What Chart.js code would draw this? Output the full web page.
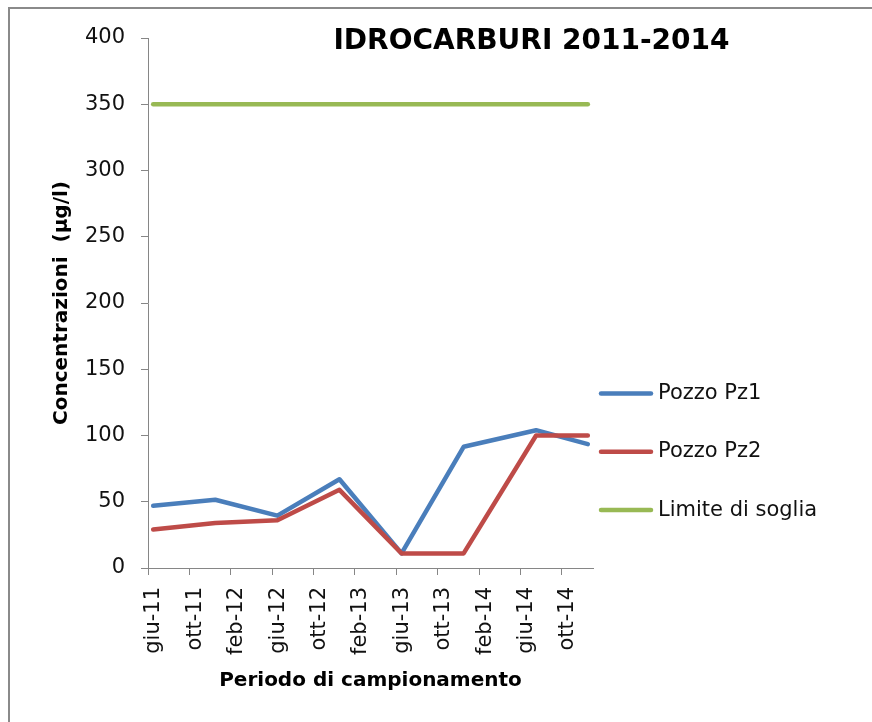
<!DOCTYPE html>
<html>
<head>
<meta charset="utf-8">
<script src="https://cdn.jsdelivr.net/npm/chart.js@4.4.1/dist/chart.umd.min.js"></script>
<style>
  html, body { margin: 0; padding: 0; background: #ffffff; }
  #wrap { position: relative; width: 872px; height: 722px; }
  canvas { display: block; }
</style>
</head>
<body>
<div id="wrap"><canvas id="c" width="872" height="722"></canvas></div>
<script>
// ---- DATA ----
const chartTitle = 'IDROCARBURI 2011-2014';
const yAxisTitle = 'Concentrazioni  (µg/l)';
const xAxisTitle = 'Periodo di campionamento';
const seriesNames = ['Pozzo Pz1', 'Pozzo Pz2', 'Limite di soglia'];
const axisStartMonth = '2011-06';
const sampleMonths = ['2011-06', '2011-12', '2012-06', '2012-12', '2013-06', '2013-12', '2014-07', '2014-12'];
const pz1Values = [47, 51.5, 39.5, 67, 11, 91.5, 104, 93.5];
const pz2Values = [29, 34, 36, 59, 11, 11, 100, 100];
const limitValues = [350, 350, 350, 350, 350, 350, 350, 350];
const tickLabels = ['giu-11', 'ott-11', 'feb-12', 'giu-12', 'ott-12', 'feb-13', 'giu-13', 'ott-13', 'feb-14', 'giu-14', 'ott-14'];
const tickStepMonths = 4;
const yMin = 0, yMax = 400, yStep = 50;

// ---- helpers ----
function monthOffset(s) {
  const [y0, m0] = axisStartMonth.split('-').map(Number);
  const [y, m] = s.split('-').map(Number);
  return (y - y0) * 12 + (m - m0);
}
// dates on a month-based axis sit in the middle of their month
const xPos = sampleMonths.map(s => monthOffset(s) + 0.5);
const xMax = monthOffset(sampleMonths[sampleMonths.length - 1]) + 1;
const tickValues = tickLabels.map((_, i) => i * tickStepMonths);
const pts = vals => vals.map((v, i) => ({ x: xPos[i], y: v }));

const FONT = '"DejaVu Sans", "Liberation Sans", sans-serif';
const AXIS_COLOR = '#868686';
const TEXT_COLOR = '#111111';

const frame = {
  id: 'frame',
  beforeDraw(chart) {
    const ctx = chart.ctx;
    ctx.save();
    ctx.fillStyle = '#ffffff';
    ctx.fillRect(0, 0, chart.width, chart.height);
    ctx.fillStyle = '#8a8a8a';
    ctx.fillRect(8, 7, chart.width - 8, 2);
    ctx.fillRect(8, 7, 2, chart.height - 7);
    ctx.restore();
  }
};

const overlayText = {
  id: 'overlayText',
  afterDraw(chart) {
    const ctx = chart.ctx;
    const area = chart.chartArea;
    ctx.save();
    // title
    ctx.fillStyle = '#000000';
    ctx.font = 'bold 28px ' + FONT;
    ctx.textAlign = 'center';
    ctx.textBaseline = 'alphabetic';
    ctx.fillText(chartTitle, 531.5, 48.5);
    // legend
    chart.data.datasets.forEach((ds, i) => {
      const y = 393.5 + i * 58.3;
      const x0 = area.right + 8;
      ctx.strokeStyle = ds.borderColor;
      ctx.lineWidth = ds.borderWidth;
      ctx.lineCap = 'round';
      ctx.beginPath();
      ctx.moveTo(x0, y);
      ctx.lineTo(x0 + 50, y);
      ctx.stroke();
      ctx.fillStyle = TEXT_COLOR;
      ctx.font = '21px ' + FONT;
      ctx.textAlign = 'left';
      ctx.textBaseline = 'middle';
      ctx.fillText(ds.label, x0 + 57, y);
    });
    ctx.restore();
  }
};

const commonLine = {
  fill: false,
  borderWidth: 4.5,
  pointRadius: 0,
  pointHoverRadius: 0,
  tension: 0,
  borderCapStyle: 'round',
  borderJoinStyle: 'round'
};

new Chart(document.getElementById('c'), {
  type: 'line',
  data: {
    datasets: [
      Object.assign({ label: seriesNames[0], data: pts(pz1Values), borderColor: '#4A7EBB', order: 3 }, commonLine),
      Object.assign({ label: seriesNames[1], data: pts(pz2Values), borderColor: '#BE4B48', order: 2 }, commonLine),
      Object.assign({ label: seriesNames[2], data: pts(limitValues), borderColor: '#98B954', order: 1 }, commonLine)
    ]
  },
  options: {
    responsive: false,
    devicePixelRatio: 1,
    animation: false,
    layout: { padding: { top: 38, right: 279, bottom: 0, left: 0 } },
    plugins: {
      legend: { display: false },
      title: { display: false },
      tooltip: { enabled: false }
    },
    scales: {
      x: {
        type: 'linear',
        min: 0,
        max: xMax,
        afterBuildTicks: scale => { scale.ticks = tickValues.map(v => ({ value: v })); },
        afterFit: scale => { scale.height = 722 - 568; },
        grid: { display: true, drawOnChartArea: false, drawTicks: true, tickLength: 7, color: AXIS_COLOR, lineWidth: 1 },
        border: { display: true, color: AXIS_COLOR, width: 1 },
        ticks: {
          autoSkip: false,
          maxRotation: 90,
          minRotation: 90,
          padding: 12,
          labelOffset: 6,
          color: TEXT_COLOR,
          font: { family: FONT, size: 21 },
          callback: (value) => {
            const idx = tickValues.indexOf(value);
            return idx >= 0 ? tickLabels[idx] : '';
          }
        },
        title: {
          display: true,
          text: xAxisTitle,
          color: '#000000',
          font: { family: FONT, size: 20, weight: 'bold' },
          padding: { top: 0, bottom: 29 }
        }
      },
      y: {
        min: yMin,
        max: yMax,
        afterFit: scale => { scale.width = 148; },
        grid: { display: true, drawOnChartArea: false, drawTicks: true, tickLength: 7, color: AXIS_COLOR, lineWidth: 1 },
        border: { display: true, color: AXIS_COLOR, width: 1 },
        ticks: {
          stepSize: yStep,
          padding: 16,
          color: TEXT_COLOR,
          font: { family: FONT, size: 21 }
        },
        title: {
          display: true,
          text: yAxisTitle,
          color: '#000000',
          font: { family: FONT, size: 20, weight: 'bold' },
          padding: { top: 50, bottom: 0 }
        }
      }
    }
  },
  plugins: [frame, overlayText]
});
</script>
</body>
</html>
